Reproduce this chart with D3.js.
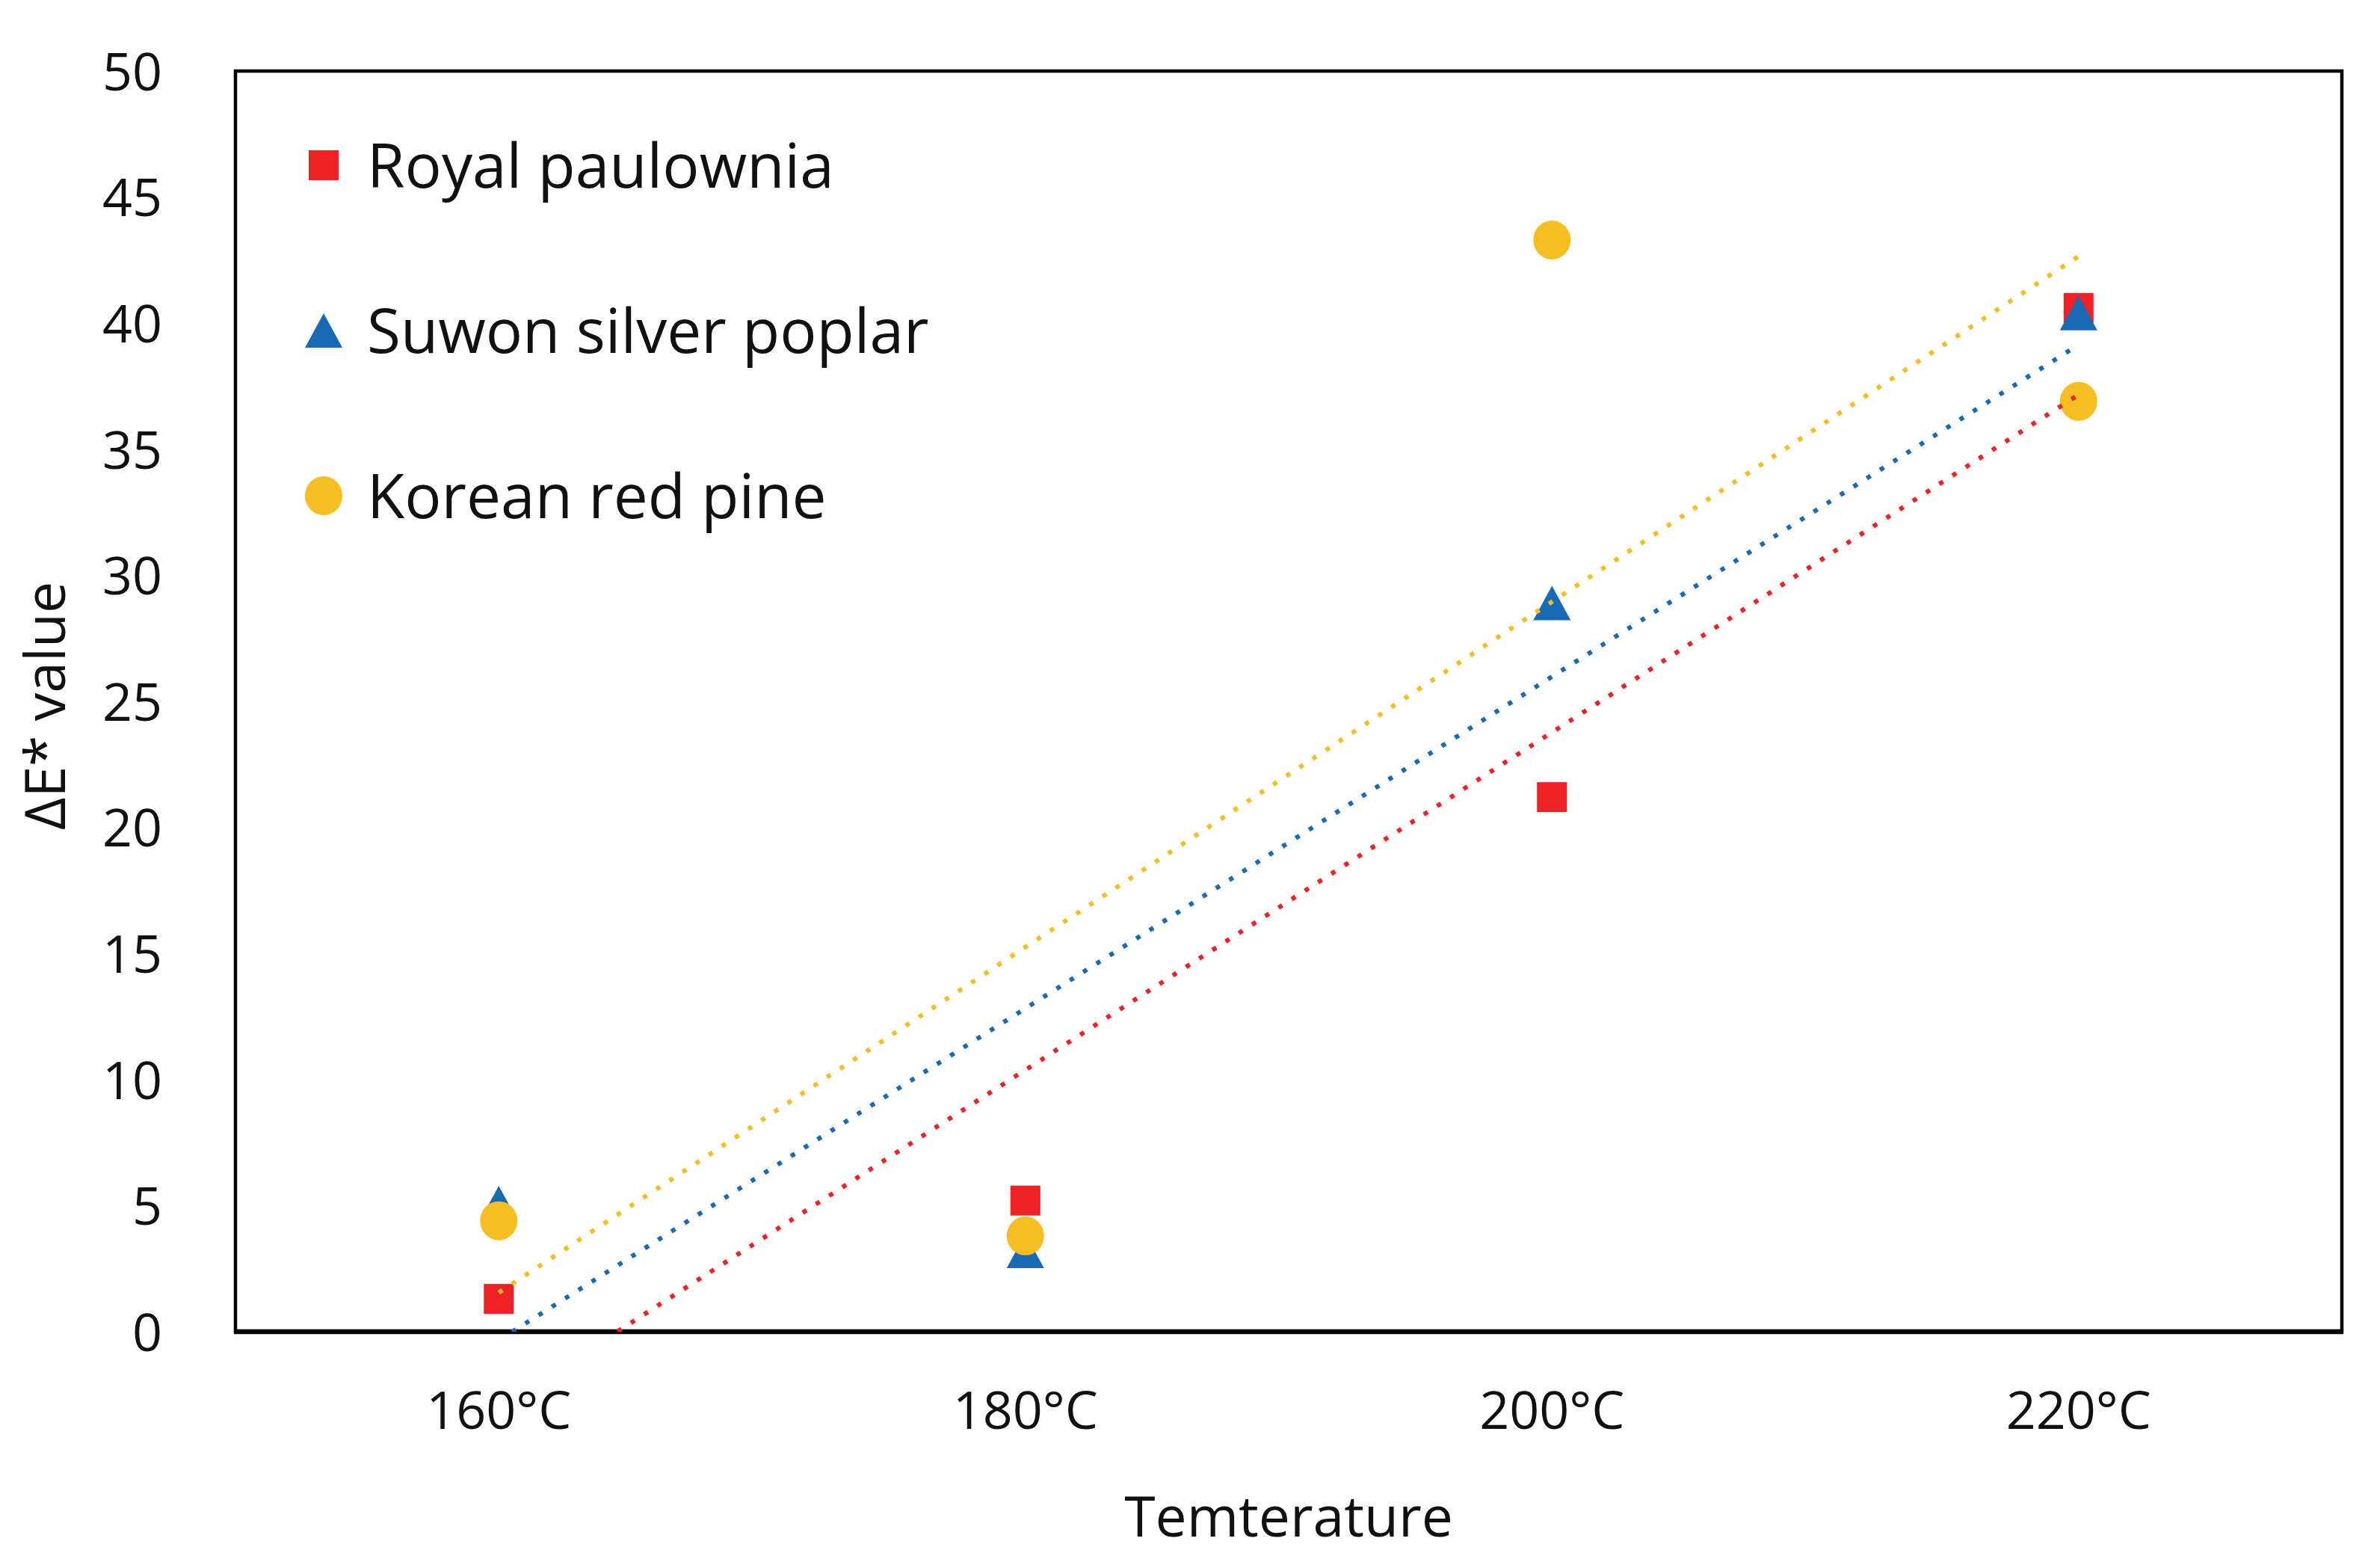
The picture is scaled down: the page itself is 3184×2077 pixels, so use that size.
<!DOCTYPE html>
<html>
<head>
<meta charset="utf-8">
<script src="https://cdn.jsdelivr.net/npm/d3@7"></script>
<style>
  html, body { margin: 0; padding: 0; background: #fff; }
  svg { display: block; }
  text { font-family: "Open Sans", "Noto Sans", sans-serif; fill: #111; }
</style>
</head>
<body>
<svg id="chart" width="3184" height="2077"></svg>
<script>
// ---- data ----
const categories = ["160°C", "180°C", "200°C", "220°C"];
const seriesNames = ["Royal paulownia", "Suwon silver poplar", "Korean red pine"];
const royalPaulownia = [1.3, 5.2, 21.2, 40.6];
const suwonSilverPoplar = [5.1, 3.2, 28.9, 40.4];
const koreanRedPine = [4.4, 3.8, 43.3, 36.9];
const yTicks = [0, 5, 10, 15, 20, 25, 30, 35, 40, 45, 50];
const xTitle = "Temterature";
const yTitle = "ΔE* value";

const colors = ["#EE2125", "#186AB4", "#F7BE21"];
const shapes = ["square", "triangle", "circle"];
const seriesValues = [royalPaulownia, suwonSilverPoplar, koreanRedPine];

// ---- layout ----
const plot = { left: 315, top: 95, right: 3133, bottom: 1781 };
const svg = d3.select("#chart");

const x = d3.scaleBand().domain(categories).range([plot.left, plot.right]).padding(0);
const y = d3.scaleLinear().domain([0, 50]).range([plot.bottom, plot.top]);
const cx = c => x(c) + x.bandwidth() / 2;

svg.append("defs").append("clipPath").attr("id", "plotclip")
  .append("rect")
  .attr("x", plot.left).attr("y", plot.top)
  .attr("width", plot.right - plot.left).attr("height", plot.bottom - plot.top);

// frame
svg.append("rect")
  .attr("x", plot.left).attr("y", plot.top)
  .attr("width", plot.right - plot.left).attr("height", plot.bottom - plot.top)
  .attr("fill", "none").attr("stroke", "#000").attr("stroke-width", 4.5);

// y axis labels
const yAxis = d3.axisLeft(y).tickValues(yTicks).tickSize(0).tickPadding(98);
const yg = svg.append("g").attr("transform", `translate(${plot.left},0)`).call(yAxis);
yg.select(".domain").remove();
yg.selectAll("text").attr("font-size", 70).attr("font-family", '"Open Sans", sans-serif')
  .attr("fill", "#111").attr("dy", "0.36em");

// x axis labels
const xAxis = d3.axisBottom(x).tickSize(0).tickPadding(80);
const xg = svg.append("g").attr("transform", `translate(0,${plot.bottom})`).call(xAxis);
xg.select(".domain").remove();
xg.selectAll("text").attr("font-size", 70).attr("font-family", '"Open Sans", sans-serif')
  .attr("fill", "#111");

// bottom axis line (thicker)
svg.append("line")
  .attr("x1", plot.left - 2).attr("x2", plot.right + 2)
  .attr("y1", plot.bottom).attr("y2", plot.bottom)
  .attr("stroke", "#000").attr("stroke-width", 6.5);

// axis titles
svg.append("text")
  .attr("x", (plot.left + plot.right) / 2).attr("y", 2055)
  .attr("text-anchor", "middle").attr("font-size", 75)
  .text(xTitle);

svg.append("text")
  .attr("transform", `translate(87,${944}) rotate(-90)`)
  .attr("text-anchor", "middle").attr("font-size", 75)
  .text(yTitle);

// marker drawing
function drawMarker(g, shape, color, px, py) {
  if (shape === "square") {
    g.append("rect").attr("x", px - 20).attr("y", py - 20)
      .attr("width", 40).attr("height", 40).attr("fill", color);
  } else if (shape === "triangle") {
    const w = 50, h = 46;
    g.append("path")
      .attr("d", `M${px},${py - h / 2} L${px + w / 2},${py + h / 2} L${px - w / 2},${py + h / 2} Z`)
      .attr("fill", color);
  } else {
    g.append("ellipse").attr("cx", px).attr("cy", py)
      .attr("rx", 25).attr("ry", 26).attr("fill", color);
  }
}

// markers
const markersG = svg.append("g");
seriesValues.forEach((vals, si) => {
  const g = markersG.append("g");
  vals.forEach((v, i) => drawMarker(g, shapes[si], colors[si], cx(categories[i]), y(v)));
});

// linear trendlines (least squares over category index 1..n)
const trendG = svg.append("g").attr("clip-path", "url(#plotclip)");
seriesValues.forEach((vals, si) => {
  const n = vals.length;
  const xs = vals.map((_, i) => i + 1);
  const mx = d3.mean(xs), my = d3.mean(vals);
  const slope = d3.sum(xs.map((xi, i) => (xi - mx) * (vals[i] - my))) / d3.sum(xs.map(xi => (xi - mx) ** 2));
  const intercept = my - slope * mx;
  const pts = [
    [cx(categories[0]), y(intercept + slope * 1)],
    [cx(categories[n - 1]), y(intercept + slope * n)]
  ];
  trendG.append("path")
    .attr("d", d3.line()(pts))
    .attr("fill", "none").attr("stroke", colors[si])
    .attr("stroke-width", 6).attr("stroke-dasharray", "6 15");
});

// legend
const legendY = [221, 442, 663];
const legend = svg.append("g");
seriesNames.forEach((name, si) => {
  drawMarker(legend, shapes[si], colors[si], 433, legendY[si]);
  legend.append("text")
    .attr("x", 491).attr("y", legendY[si]).attr("dy", "0.36em")
    .attr("font-size", 82).text(name);
});
</script>
</body>
</html>
